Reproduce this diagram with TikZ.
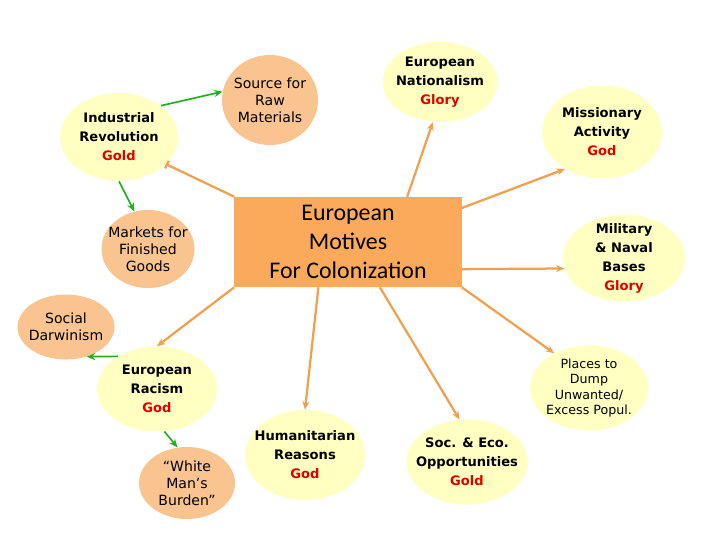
\documentclass[tikz,border=0pt]{standalone}
\usepackage{fontspec}
\setmainfont{DejaVu Sans}
\newfontfamily\hubfont{Carlito}
\usetikzlibrary{arrows.meta,shapes.geometric,calc}
\definecolor{MotiveYellow}{HTML}{FFFFC2}
\definecolor{CauseOrange}{HTML}{F9C490}
\definecolor{HubOrange}{HTML}{FBAA5C}
\definecolor{LinkOrange}{HTML}{F0A04E}
\definecolor{LinkGreen}{HTML}{22B022}
\definecolor{ReasonRed}{HTML}{E00000}
\newcommand{\why}[1]{\textcolor{ReasonRed}{#1}}
\tikzset{
  motive/.style={ellipse,fill=MotiveYellow,inner sep=-8pt,align=center,font=\fontsize{9.3}{13.5}\selectfont\bfseries},
  cause/.style={ellipse,fill=CauseOrange,inner sep=-8pt,align=center,font=\fontsize{10}{12}\selectfont},
  hub/.style={fill=HubOrange,inner sep=0pt,minimum width=5.675cm,minimum height=2.25cm,align=center,font=\hubfont\fontsize{17}{20.5}\selectfont},
  link/.style={draw=LinkOrange,line width=1.6pt,-{Stealth[length=6pt,width=5pt]}},
  sub/.style={draw=LinkGreen,line width=1.2pt,-{Stealth[length=6pt,width=5pt]}},
}

\begin{document}
\begin{tikzpicture}[x=0.025cm,y=-0.025cm]
\useasboundingbox (0,0) rectangle (720,540);
% centre
\node[hub] (box) at (348,242) {European\\Motives\\For Colonization};
% motives
\node[motive,minimum width=2.95cm,minimum height=2.2cm] (ind) at (119,137) {Industrial\\Revolution\\\why{Gold}};
\node[motive,minimum width=2.875cm,minimum height=2cm] (nat) at (440,82) {European\\Nationalism\\\why{Glory}};
\node[motive,minimum width=3cm,minimum height=2.325cm] (mis) at (602,132) {Missionary\\Activity\\\why{God}};
\node[motive,minimum width=3.05cm,minimum height=2.175cm] (mil) at (624,258) {Military\\\& Naval\\Bases\\\why{Glory}};
\node[motive,minimum width=3cm,minimum height=2.125cm] (rac) at (157,389) {European\\Racism\\\why{God}};
\node[motive,minimum width=2.95cm,minimum height=2.125cm,font=\fontsize{9}{11}\selectfont] (dump) at (589,388) {Places to\\Dump\\Unwanted/\\Excess Popul.};
\node[motive,minimum width=3cm,minimum height=2.25cm] (hum) at (305,455) {Humanitarian\\Reasons\\\why{God}};
\node[motive,minimum width=3.025cm,minimum height=2.125cm] (eco) at (467,462) {Soc. \& Eco.\\Opportunities\\\why{Gold}};
% side causes
\node[cause,minimum width=2.4cm,minimum height=2.25cm] (src) at (270,100) {Source for\\Raw\\Materials};
\node[cause,minimum width=2.325cm,minimum height=1.95cm] (mkt) at (148,249) {Markets for\\Finished\\Goods};
\node[cause,minimum width=2.425cm,minimum height=1.625cm] (soc) at (66,327) {Social\\Darwinism};
\node[cause,minimum width=2.4cm,minimum height=1.8cm] (wmb) at (187,483) {``White\\Man's\\Burden''};
% orange links
\draw[link,-{Bar[width=6pt]}] (box.north west) -- (ind.-30);
\draw[link] ($(box.north west)!0.76!(box.north east)$) -- (nat.-100);
\draw[link] ($(box.north east)!0.25!(box.east)$) -- (mis.-135);
\draw[link] ($(box.east)!0.6!(box.south east)$) -- (mil.-170);
\draw[link] (box.south east) -- (dump.135);
\draw[link] ($(box.south west)!0.64!(box.south east)$) -- (eco.100);
\draw[link] ($(box.south west)!0.37!(box.south east)$) -- (hum.north);
\draw[link] (box.south west) -- (rac.north);
% green links
\draw[sub] (ind.north east) -- (src.170);
\draw[sub] (ind.south) -- (mkt.110);
\draw[sub] (rac.140) -- (soc.-55);
\draw[sub] (rac.-80) -- (wmb.105);
\end{tikzpicture}
\end{document}
